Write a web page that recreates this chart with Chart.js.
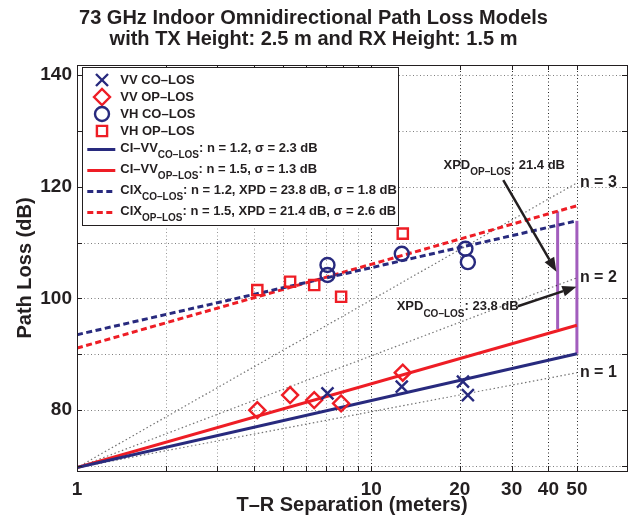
<!DOCTYPE html>
<html>
<head>
<meta charset="utf-8">
<script src="https://cdn.jsdelivr.net/npm/chart.js@4/dist/chart.umd.min.js"></script>
<style>
  html, body { margin: 0; padding: 0; background: #fff; }
</style>
</head>
<body>
<canvas id="myChart" width="641" height="516"></canvas>
<script>
// Measured points: T-R separation (m) and path loss (dB)
var distVvCo = [7.1, 12.7, 20.5, 21.3];
var plVvCo = [83.0, 84.2, 85.1, 82.7];
var distVvOp = [4.1, 5.3, 6.4, 7.9, 12.8];
var plVvOp = [80.0, 82.7, 81.8, 81.2, 86.7];
var distVhCo = [7.1, 7.1, 12.7, 20.9, 21.3];
var plVhCo = [106.0, 104.2, 108.0, 108.9, 106.5];
var distVhOp = [4.1, 5.3, 6.4, 7.9, 12.8];
var plVhOp = [101.5, 103.0, 102.4, 100.3, 111.6];

// Model lines, end points at 1 m and 50 m
var modelDist = [1, 50];
var ciVvCo = [69.7, 90.1];
var ciVvOp = [69.7, 95.2];
var cixCo = [93.5, 113.9];
var cixOp = [91.1, 116.6];

// Reference PLE lines n = 1, 2, 3
var refN1 = [69.7, 86.7];
var refN2 = [69.7, 103.7];
var refN3 = [69.7, 120.7];

// XPD bars
var xpdCoDist = [50, 50];
var xpdCoRange = [90.1, 113.9];
var xpdOpDist = [43, 43];
var xpdOpRange = [94.5, 115.6];

// Axis ticks
var xTicks = [1, 2, 3, 4, 5, 6, 7, 8, 9, 10, 20, 30, 40, 50];
var xTickLabels = [1, 10, 20, 30, 40, 50];
var yTicks = [70, 80, 90, 100, 110, 120, 130, 140];
var yTickLabels = [80, 100, 120, 140];

var FONT = "'Liberation Sans', Arial, Helvetica, sans-serif";
var NAVY = '#282a7e';
var RED = '#ee1d25';
var PURPLE = '#a25dbd';
var INK = '#231f20';

function pts(xs, ys) {
  return xs.map(function (x, i) { return { x: x, y: ys[i] }; });
}

function markerSet(label, xs, ys, style, radius, color, legendText) {
  return {
    label: label,
    data: pts(xs, ys),
    showLine: false,
    pointStyle: style,
    pointRadius: radius,
    pointBorderWidth: 2.4,
    borderColor: color,
    backgroundColor: 'rgba(0,0,0,0)',
    pointBackgroundColor: 'rgba(0,0,0,0)',
    legendText: legendText
  };
}

function lineSet(label, xs, ys, color, width, dash, legendText) {
  return {
    label: label,
    data: pts(xs, ys),
    showLine: true,
    pointRadius: 0,
    borderColor: color,
    borderWidth: width,
    borderDash: dash,
    legendText: legendText
  };
}

// Draw text with subscripts, parts are strings or {sub: '...'}
function drawRich(ctx, parts, x, y, size, subSize, subDrop) {
  ctx.textBaseline = 'middle';
  ctx.textAlign = 'left';
  parts.forEach(function (p) {
    var isSub = typeof p === 'object';
    var t = isSub ? p.sub : p;
    ctx.font = 'bold ' + (isSub ? subSize : size) + 'px ' + FONT;
    ctx.fillText(t, x, isSub ? y + subDrop : y);
    x += ctx.measureText(t).width;
  });
}

function drawArrow(ctx, x0, y0, x1, y1) {
  var a = Math.atan2(y1 - y0, x1 - x0);
  var len = 14, half = 5.5;
  var bx = x1 - len * Math.cos(a), by = y1 - len * Math.sin(a);
  ctx.beginPath();
  ctx.moveTo(x0, y0);
  ctx.lineTo(bx, by);
  ctx.stroke();
  ctx.beginPath();
  ctx.moveTo(x1, y1);
  ctx.lineTo(bx + half * Math.sin(a), by - half * Math.cos(a));
  ctx.lineTo(bx - half * Math.sin(a), by + half * Math.cos(a));
  ctx.closePath();
  ctx.fill();
}

var notes = [
  { parts: ['XPD', { sub: 'OP–LOS' }, ': 21.4 dB'], x: 17.6, y: 123.9, from: [28.1, 121.2], to: [42.6, 104.8] },
  { parts: ['XPD', { sub: 'CO–LOS' }, ': 23.8 dB'], x: 12.2, y: 98.5, from: [31.5, 98.6], to: [49.8, 102.1] }
];

var extras = {
  id: 'extras',
  beforeDatasetsDraw: function (chart) {
    // dotted grid
    var ctx = chart.ctx;
    var ca = chart.chartArea;
    var xs = chart.scales.x, ys = chart.scales.y;
    ctx.save();
    ctx.lineWidth = 1;
    ctx.setLineDash([1, 2.5]);
    xTicks.forEach(function (v) {
      if (v === 1) return;
      var px = Math.round(xs.getPixelForValue(v)) + 0.5;
      ctx.strokeStyle = xTickLabels.indexOf(v) > 0 ? 'rgba(0,0,0,0.85)' : 'rgba(0,0,0,0.4)';
      ctx.beginPath();
      ctx.moveTo(px, ca.bottom);
      ctx.lineTo(px, ca.top);
      ctx.stroke();
    });
    ctx.strokeStyle = 'rgba(0,0,0,0.5)';
    yTicks.forEach(function (v) {
      var py = Math.round(ys.getPixelForValue(v)) + 0.5;
      ctx.beginPath();
      ctx.moveTo(ca.left, py);
      ctx.lineTo(ca.right, py);
      ctx.stroke();
    });
    ctx.restore();
  },
  afterDraw: function (chart) {
    var ctx = chart.ctx;
    var ca = chart.chartArea;
    var xs = chart.scales.x, ys = chart.scales.y;
    ctx.save();

    // axes box and inward ticks
    ctx.strokeStyle = INK;
    ctx.lineWidth = 1;
    ctx.setLineDash([]);
    ctx.strokeRect(Math.round(ca.left) + 0.5, Math.round(ca.top) + 0.5,
      Math.round(ca.right - ca.left), Math.round(ca.bottom - ca.top));
    ctx.beginPath();
    xTicks.forEach(function (v) {
      var px = Math.round(xs.getPixelForValue(v)) + 0.5;
      ctx.moveTo(px, ca.top); ctx.lineTo(px, ca.top + 5);
      ctx.moveTo(px, ca.bottom); ctx.lineTo(px, ca.bottom - 5);
    });
    yTicks.forEach(function (v) {
      var py = Math.round(ys.getPixelForValue(v)) + 0.5;
      ctx.moveTo(ca.left, py); ctx.lineTo(ca.left + 5, py);
      ctx.moveTo(ca.right, py); ctx.lineTo(ca.right - 5, py);
    });
    ctx.stroke();

    // n labels
    ctx.fillStyle = INK;
    ctx.font = 'bold 16px ' + FONT;
    ctx.textBaseline = 'middle';
    ctx.textAlign = 'left';
    [[refN1, 'n = 1'], [refN2, 'n = 2'], [refN3, 'n = 3']].forEach(function (r) {
      ctx.fillText(r[1], xs.getPixelForValue(modelDist[1]) + 3, ys.getPixelForValue(r[0][1]));
    });

    // XPD annotations
    ctx.strokeStyle = INK;
    ctx.lineWidth = 2.5;
    notes.forEach(function (n) {
      drawRich(ctx, n.parts, xs.getPixelForValue(n.x), ys.getPixelForValue(n.y), 13, 10, 7.5);
      drawArrow(ctx, xs.getPixelForValue(n.from[0]), ys.getPixelForValue(n.from[1]),
        xs.getPixelForValue(n.to[0]), ys.getPixelForValue(n.to[1]));
    });

    // legend box
    var bl = ca.left + 5, bt = ca.top + 2.3, bw = 315.6, bh = 158.4;
    ctx.fillStyle = '#fff';
    ctx.fillRect(bl, bt, bw, bh);
    ctx.strokeStyle = INK;
    ctx.lineWidth = 1;
    ctx.strokeRect(Math.round(bl) + 0.5, Math.round(bt) + 0.5, Math.round(bw), Math.round(bh));
    var rowY = bt + 12.7;
    chart.data.datasets.forEach(function (ds) {
      if (!ds.legendText) return;
      if (ds.showLine) {
        ctx.strokeStyle = ds.borderColor;
        ctx.lineWidth = ds.borderWidth;
        ctx.setLineDash(ds.borderDash || []);
        ctx.beginPath();
        ctx.moveTo(bl + 5.3, rowY + 1.5);
        ctx.lineTo(bl + 33.3, rowY + 1.5);
        ctx.stroke();
        ctx.setLineDash([]);
      } else {
        ctx.strokeStyle = ds.borderColor;
        ctx.fillStyle = 'rgba(0,0,0,0)';
        ctx.lineWidth = ds.pointBorderWidth;
        Chart.helpers.drawPoint(ctx, {
          pointStyle: ds.pointStyle, radius: ds.pointRadius, rotation: 0, borderWidth: ds.pointBorderWidth
        }, bl + 20, rowY);
      }
      ctx.fillStyle = INK;
      drawRich(ctx, ds.legendText, bl + 38.3, rowY, 13, 10, 7.7);
      rowY += ds.showLine ? 21 : 17;
    });

    ctx.restore();
  }
};

var ctx = document.getElementById('myChart').getContext('2d');

var myChart = new Chart(ctx, {
  type: 'scatter',
  data: {
    datasets: [
      markerSet('VV CO-LOS', distVvCo, plVvCo, 'crossRot', 8.5, NAVY, ['VV CO–LOS']),
      markerSet('VV OP-LOS', distVvOp, plVvOp, 'rectRot', 8, RED, ['VV OP–LOS']),
      markerSet('VH CO-LOS', distVhCo, plVhCo, 'circle', 7, NAVY, ['VH CO–LOS']),
      markerSet('VH OP-LOS', distVhOp, plVhOp, 'rect', 7.2, RED, ['VH OP–LOS']),
      lineSet('CI-VV CO-LOS', modelDist, ciVvCo, NAVY, 3, [], ['CI–VV', { sub: 'CO–LOS' }, ': n = 1.2, σ = 2.3 dB']),
      lineSet('CI-VV OP-LOS', modelDist, ciVvOp, RED, 3, [], ['CI–VV', { sub: 'OP–LOS' }, ': n = 1.5, σ = 1.3 dB']),
      lineSet('CIX CO-LOS', modelDist, cixCo, NAVY, 3, [6, 3.5], ['CIX', { sub: 'CO–LOS' }, ': n = 1.2, XPD = 23.8 dB, σ = 1.8 dB']),
      lineSet('CIX OP-LOS', modelDist, cixOp, RED, 3, [6, 3.5], ['CIX', { sub: 'OP–LOS' }, ': n = 1.5, XPD = 21.4 dB, σ = 2.6 dB']),
      lineSet('n = 1', modelDist, refN1, 'rgba(0,0,0,0.55)', 1.2, [1.5, 2.5]),
      lineSet('n = 2', modelDist, refN2, 'rgba(0,0,0,0.55)', 1.2, [1.5, 2.5]),
      lineSet('n = 3', modelDist, refN3, 'rgba(0,0,0,0.55)', 1.2, [1.5, 2.5]),
      lineSet('XPD CO-LOS', xpdCoDist, xpdCoRange, PURPLE, 3, []),
      lineSet('XPD OP-LOS', xpdOpDist, xpdOpRange, PURPLE, 3, [])
    ]
  },
  options: {
    responsive: false,
    animation: false,
    layout: { padding: { left: 0, right: 14, top: 0, bottom: 0 } },
    scales: {
      x: {
        type: 'logarithmic',
        min: 1,
        max: 74,
        afterBuildTicks: function (scale) {
          scale.ticks = xTicks.map(function (v) { return { value: v }; });
        },
        afterFit: function (scale) { scale.height = 45; },
        ticks: {
          autoSkip: false,
          maxRotation: 0,
          padding: 7,
          color: INK,
          font: { family: FONT, size: 19, weight: 'bold' },
          callback: function (value) {
            return xTickLabels.indexOf(value) >= 0 ? String(value) : '';
          }
        },
        grid: { display: false, drawTicks: false },
        border: { display: false },
        title: {
          display: true,
          text: 'T–R Separation (meters)',
          color: INK,
          font: { family: FONT, size: 20, weight: 'bold', lineHeight: 1 },
          padding: { top: 0, bottom: 0.5 }
        }
      },
      y: {
        type: 'linear',
        min: 69.1,
        max: 141.8,
        afterBuildTicks: function (scale) {
          scale.ticks = yTicks.map(function (v) { return { value: v }; });
        },
        afterFit: function (scale) { scale.width = 77; },
        ticks: {
          autoSkip: false,
          padding: 5,
          color: INK,
          font: { family: FONT, size: 19, weight: 'bold' },
          callback: function (value) {
            return yTickLabels.indexOf(value) >= 0 ? String(value) : '';
          }
        },
        grid: { display: false, drawTicks: false },
        border: { display: false },
        title: {
          display: true,
          text: 'Path Loss (dB)',
          color: INK,
          font: { family: FONT, size: 20, weight: 'bold', lineHeight: 1.2 },
          padding: { top: 13, bottom: 0 }
        }
      }
    },
    plugins: {
      legend: { display: false },
      tooltip: { enabled: false },
      title: {
        display: true,
        text: ['73 GHz Indoor Omnidirectional Path Loss Models', 'with TX Height: 2.5 m and RX Height: 1.5 m'],
        color: INK,
        font: { family: FONT, size: 20, weight: 'bold', lineHeight: 1.08 },
        padding: { top: 7.5, bottom: 14.3 }
      }
    }
  },
  plugins: [extras]
});
</script>
</body>
</html>
